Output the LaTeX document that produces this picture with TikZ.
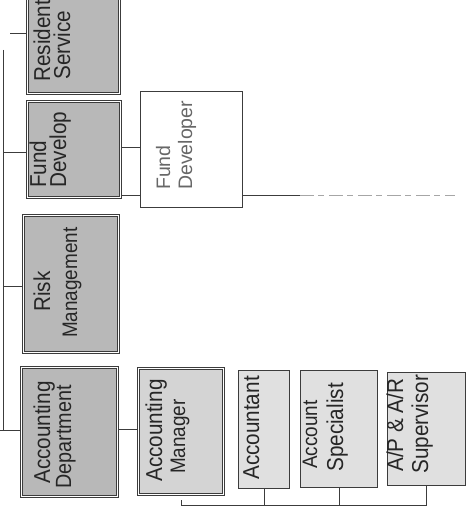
\documentclass[tikz,border=0pt]{standalone}
\usepackage{fontspec}
\usepackage{graphicx}
\setmainfont{Liberation Sans}
\definecolor{ln}{HTML}{3C3C3C}
\definecolor{txt}{HTML}{262626}
\definecolor{darkfill}{HTML}{B8B8B8}
\definecolor{midfill}{HTML}{D4D4D4}
\definecolor{lightfill}{HTML}{E0E0E0}
\newcommand{\sqz}[1]{\scalebox{0.9}[1]{#1}}
\tikzset{
  dblbox/.style={rectangle, inner sep=0, anchor=north west, draw=ln, line width=0.8pt, double=white, double distance=1.5pt},
  darkbox/.style={dblbox, fill=darkfill},
  mgrbox/.style={dblbox, fill=midfill},
  plainbox/.style={rectangle, inner sep=0, anchor=north west, draw=ln, line width=1.4pt, fill=lightfill},
  whitebox/.style={rectangle, inner sep=0, anchor=north west, draw=ln, line width=0.8pt, fill=white},
  lbl/.style={rotate=90, anchor=base west, inner sep=0, text=txt, font=\fontsize{23}{26}\selectfont},
  lblsm/.style={lbl, font=\fontsize{21}{24}\selectfont},
  conn/.style={draw=ln, line width=0.8pt},
}
\begin{document}
\begin{tikzpicture}[x=1pt, y=-1pt]
\path[use as bounding box, fill=white] (0,0) rectangle (466,508);
\clip (0,0) rectangle (466,508);

% junction coordinates
\coordinate (sTop) at (3,50);
\coordinate (sBot) at (3,430);
\coordinate (resJ) at (10,33);
\coordinate (fJ) at (3,152);
\coordinate (rJ) at (3,286);
\coordinate (aJ) at (0,430);
\coordinate (fdY) at (0,147);
\coordinate (dY) at (0,195);
\coordinate (dMid) at (300,195);
\coordinate (dEnd) at (455,195);
\coordinate (amY) at (0,429);
\coordinate (bL) at (181,500);
\coordinate (bY) at (0,505);

% boxes
\node[darkbox, minimum width=92pt, minimum height=113pt] (res) at (27,-20) {};
\node[darkbox, minimum width=93pt, minimum height=96pt] (fdp) at (27,101) {};
\node[darkbox, minimum width=95pt, minimum height=137pt] (risk) at (23,215) {};
\node[darkbox, minimum width=96pt, minimum height=129pt] (adept) at (21,367) {};
\node[mgrbox, minimum width=85pt, minimum height=126pt] (amgr) at (138,368) {};
\node[plainbox, minimum width=51pt, minimum height=118pt] (acct) at (238,370) {};
\node[plainbox, minimum width=77pt, minimum height=117pt] (aspec) at (300,370) {};
\node[plainbox, minimum width=78pt, minimum height=113pt] (apar) at (387,372) {};

% connectors
\draw[conn] (sTop) -- (sBot);
\draw[conn] (resJ) -- (resJ -| res.west);
\draw[conn] (fJ) -- (fJ -| fdp.west);
\draw[conn] (rJ) -- (rJ -| risk.west);
\draw[conn] (aJ) -- (aJ -| adept.west);
\draw[conn, line width=0.6pt] (dY -| fdp.east) -- (dMid);
\draw[draw=gray!70, line width=0.6pt, dash pattern=on 14pt off 4pt on 6pt off 5pt] (dMid) -- (dEnd);
\draw[conn] (amY -| adept.east) -- (amY -| amgr.west);
\draw[conn] (bL) -- (bL |- bY) -- (bY -| apar.south) -- (apar.south);
\draw[conn] (acct.south) -- (acct.south |- bY);
\draw[conn] (aspec.south) -- (aspec.south |- bY);

% white box drawn over the dashed line
\node[whitebox, minimum width=102pt, minimum height=116pt] (fdr) at (140,91) {};
\draw[conn] (fdY -| fdp.east) -- (fdY -| fdr.west);

% labels
\node[lbl] (res1) at (50,82) {\sqz{Resident}};
\node[lbl] (res2) at (70,80) {\sqz{Service}};
\node[lbl] (fdp1) at (46,188) {\sqz{Fund}};
\node[lbl] (fdp2) at (66,188) {\sqz{Develop}};
\node[lbl, text=txt!70, font=\fontsize{19.5}{22}\selectfont] (fdr1) at (170,190) {Fund};
\node[lbl, text=txt!70, font=\fontsize{19.5}{22}\selectfont] (fdr2) at (192,190) {Developer};
\node[lbl] (risk1) at (50,312) {\sqz{Risk}};
\node[lblsm] (risk2) at (77,338) {\sqz{Management}};
\node[lbl] (adept1) at (50,484) {\sqz{Accounting}};
\node[lbl, font=\fontsize{22}{25}\selectfont] (adept2) at (71,489) {\sqz{Department}};
\node[lbl] (amgr1) at (162,482) {\sqz{Accounting}};
\node[lblsm] (amgr2) at (185,474) {\sqz{Manager}};
\node[lbl] (acct1) at (259,480) {\sqz{Accountant}};
\node[lblsm] (aspec1) at (317,469) {\sqz{Account}};
\node[lbl] (aspec2) at (343,472) {\sqz{Specialist}};
\node[lbl] (apar1) at (403,472) {\sqz{A/P \& A/R}};
\node[lbl] (apar2) at (428,474) {\sqz{Supervisor}};
\end{tikzpicture}
\end{document}
